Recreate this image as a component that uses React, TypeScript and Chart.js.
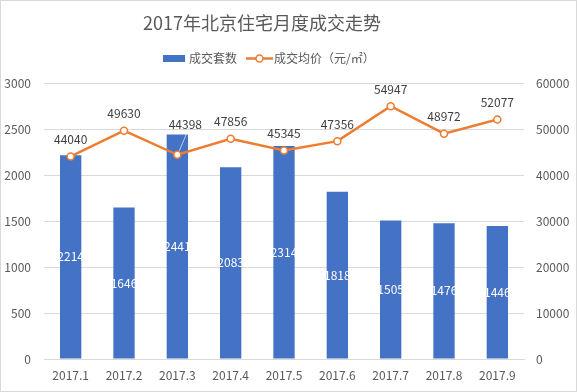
import React, { useEffect, useRef } from "react";
import { Chart, registerables } from "chart.js";

Chart.register(...registerables);

const categories = ["2017.1", "2017.2", "2017.3", "2017.4", "2017.5", "2017.6", "2017.7", "2017.8", "2017.9"];
const volumeLabel = "成交套数";
const priceLabel = "成交均价（元/㎡）";
const volumes = [2214, 1646, 2441, 2083, 2314, 1818, 1505, 1476, 1446];
const prices = [44040, 49630, 44398, 47856, 45345, 47356, 54947, 48972, 52077];
const titleText = "2017年北京住宅月度成交走势";

const BLUE = "#4472C4";
const ORANGE = "#ED7D31";
const TEXT = "#595959";
const GRID = "#d9d9d9";
const FONT = "'Noto Sans CJK SC', 'Noto Sans', sans-serif";

const overlayPlugin = {
  id: "overlay",
  afterDraw(chart: any) {
    const ctx = chart.ctx;
    ctx.save();
    // title
    ctx.fillStyle = TEXT;
    ctx.font = `18px ${FONT}`;
    ctx.textAlign = "center";
    ctx.textBaseline = "middle";
    ctx.fillText(titleText, 261, 22);

    // legend
    ctx.font = `12px ${FONT}`;
    ctx.textAlign = "left";
    ctx.fillStyle = BLUE;
    ctx.fillRect(162, 54, 22, 7);
    ctx.fillStyle = TEXT;
    ctx.fillText(volumeLabel, 188, 57.5);
    ctx.strokeStyle = ORANGE;
    ctx.lineWidth = 2.5;
    ctx.beginPath();
    ctx.moveTo(245, 57.5);
    ctx.lineTo(272, 57.5);
    ctx.stroke();
    ctx.beginPath();
    ctx.arc(258.5, 57.5, 3.5, 0, Math.PI * 2);
    ctx.fillStyle = "#fff";
    ctx.fill();
    ctx.lineWidth = 1.5;
    ctx.stroke();
    ctx.fillStyle = TEXT;
    ctx.fillText(priceLabel, 273, 57.5);

    // bar labels
    const barMeta = chart.getDatasetMeta(1);
    ctx.font = `12px ${FONT}`;
    ctx.textAlign = "center";
    ctx.fillStyle = "#ffffff";
    barMeta.data.forEach((el: any, i: number) => {
      const y = (el.y + el.base) / 2;
      ctx.fillText(String(volumes[i]), el.x, y);
    });

    // line labels
    const lineMeta = chart.getDatasetMeta(0);
    lineMeta.data.forEach((el: any, i: number) => {
      let dx = 0;
      let dy = -17;
      if (i === 2) {
        dx = 8;
        dy = -30;
        ctx.strokeStyle = "rgba(255,255,255,0.8)";
        ctx.lineWidth = 0.8;
        ctx.beginPath();
        ctx.moveTo(el.x + 2, el.y - 4);
        ctx.lineTo(el.x + 10, el.y - 23);
        ctx.stroke();
      }
      ctx.fillStyle = "#404040";
      ctx.fillText(String(prices[i]), el.x + dx, el.y + dy);
    });
    ctx.restore();
  },
};

export default function App() {
  const ref = useRef<HTMLCanvasElement>(null);
  useEffect(() => {
    document.body.style.margin = "0";
    const chart = new Chart(ref.current!, {
      type: "bar",
      data: {
        labels: categories,
        datasets: [
          {
            type: "line",
            label: priceLabel,
            data: prices,
            yAxisID: "y1",
            borderColor: ORANGE,
            borderWidth: 2.5,
            pointBackgroundColor: "#ffffff",
            pointBorderColor: ORANGE,
            pointBorderWidth: 1.5,
            pointRadius: 3.5,
            tension: 0,
            order: 1,
          } as any,
          {
            type: "bar",
            label: volumeLabel,
            data: volumes,
            yAxisID: "y",
            backgroundColor: BLUE,
            barPercentage: 0.4,
            categoryPercentage: 1,
            order: 2,
          },
        ],
      },
      options: {
        animation: false,
        responsive: false,
        layout: { padding: { top: 82, left: 0, right: 0, bottom: 0 } },
        plugins: {
          legend: { display: false },
          title: { display: false },
          tooltip: { enabled: false },
        },
        scales: {
          x: {
            grid: { display: false, drawTicks: false },
            border: { display: true, color: GRID, width: 1 },
            ticks: { color: TEXT, font: { size: 12, family: FONT }, padding: 9 },
            afterFit(s: any) {
              s.height = 32;
            },
          },
          y: {
            position: "left",
            min: 0,
            max: 3000,
            ticks: {
              stepSize: 500,
              color: TEXT,
              font: { size: 12, family: FONT },
              padding: 13,
              callback: (v: any) => String(v),
            },
            grid: { color: GRID, drawTicks: false },
            border: { display: false },
            afterFit(s: any) {
              s.width = 43;
            },
          },
          y1: {
            position: "right",
            min: 0,
            max: 60000,
            ticks: {
              stepSize: 10000,
              color: TEXT,
              font: { size: 12, family: FONT },
              padding: 12,
              callback: (v: any) => String(v),
            },
            grid: { display: false, drawTicks: false },
            border: { display: false },
            afterFit(s: any) {
              s.width = 52;
            },
          },
        },
      },
      plugins: [overlayPlugin],
    });
    return () => chart.destroy();
  }, []);
  return (
    <div
      style={{
        position: "fixed",
        left: 0,
        top: 0,
        width: 577,
        height: 392,
        boxSizing: "border-box",
        border: "1px solid #d9d9d9",
        background: "#fff",
      }}
    >
      <canvas ref={ref} width={575} height={390} style={{ display: "block" }} />
    </div>
  );
}
